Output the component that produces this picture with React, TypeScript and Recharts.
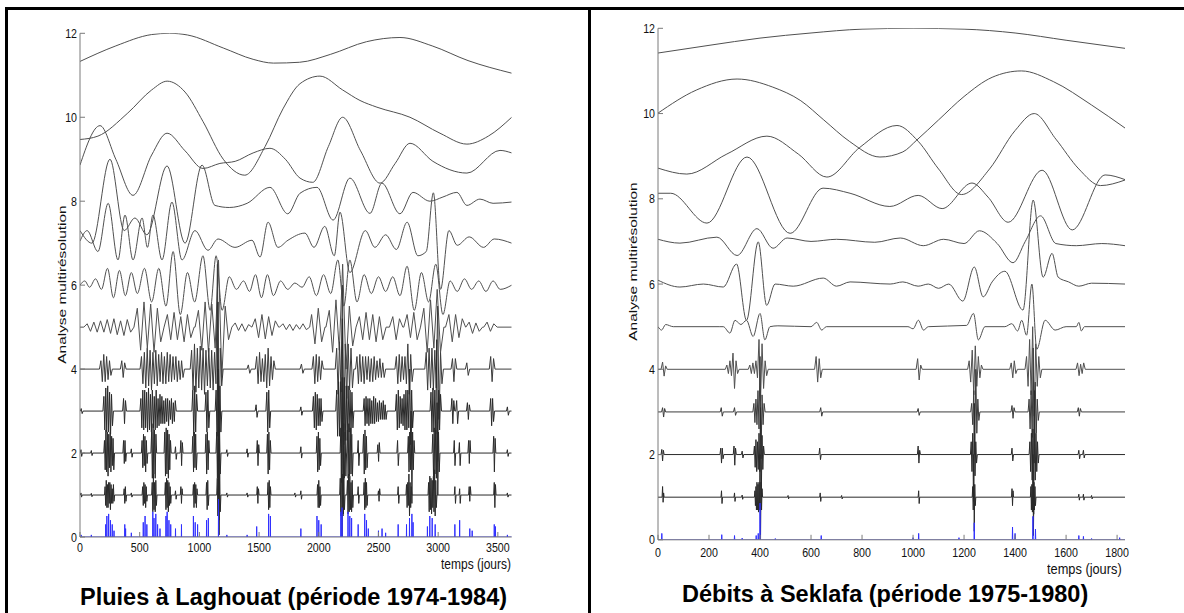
import React from 'react';
import { LineChart, Line, XAxis, YAxis } from 'recharts';

type Pt = { d: number; v: number };
type Burst = [number, number[]];

const FONT = '"Liberation Sans", Arial, sans-serif';
const AXIS = '#7a7a7a';
const INK = '#505050';
const DARK = '#2a2a2a';
const BLUE = '#3030ff';

const levelTicks = [0, 2, 4, 6, 8, 10, 12];

// ---------- Pluies à Laghouat (days 0..3616) ----------
const laghEnd = 3616;
const laghTicks = [0, 500, 1000, 1500, 2000, 2500, 3000, 3500];

const laghA = [[0, 11.33], [300, 11.7], [600, 11.97], [750, 12.0], [900, 11.96], [1200, 11.65], [1450, 11.38], [1620, 11.29], [1840, 11.31], [2100, 11.5], [2400, 11.8], [2680, 11.9], [2950, 11.7], [3250, 11.35], [3616, 11.05]];
const laghD10 = [[0, 9.47], [150, 9.55], [400, 10.1], [600, 10.65], [730, 10.86], [880, 10.6], [1030, 9.9], [1200, 9.0], [1380, 8.62], [1550, 9.3], [1700, 10.2], [1843, 10.8], [2010, 10.98], [2200, 10.65], [2345, 10.4], [2487, 10.24], [2764, 10.0], [3015, 9.62], [3241, 9.36], [3420, 9.55], [3616, 10.0]];
const laghD9 = [[0, 8.86], [168, 9.8], [300, 9.0], [444, 8.14], [600, 9.1], [729, 9.62], [880, 9.2], [1030, 8.78], [1172, 8.9], [1300, 8.95], [1450, 9.15], [1591, 9.26], [1720, 9.0], [1843, 8.55], [1950, 8.45], [2080, 9.3], [2200, 10.0], [2350, 9.2], [2513, 8.43], [2640, 8.9], [2764, 9.38], [2956, 8.95], [3241, 8.67], [3518, 9.21], [3616, 9.15]];
const laghD8 = [[0, 7.3], [100, 7.0], [251, 9.0], [370, 7.3], [460, 7.6], [560, 7.2], [729, 8.84], [880, 7.0], [1022, 8.86], [1130, 7.9], [1250, 7.85], [1400, 7.95], [1591, 8.33], [1740, 7.7], [1843, 8.19], [1985, 8.33], [2120, 7.55], [2261, 8.55], [2429, 7.71], [2529, 8.43], [2680, 7.7], [2789, 8.21], [2931, 8.0], [3040, 8.1], [3157, 8.21], [3241, 7.9], [3350, 8.05], [3460, 7.95], [3616, 7.98]];
const laghD7 = [[0, 7.05], [60, 7.3], [150, 6.8], [236, 7.95], [318, 6.6], [377, 7.67], [444, 6.6], [520, 7.6], [565, 6.9], [611, 7.67], [687, 6.6], [770, 7.98], [854, 6.6], [963, 7.3], [1072, 6.83], [1156, 7.1], [1298, 6.9], [1441, 7.07], [1508, 6.67], [1575, 7.5], [1658, 6.9], [1742, 7.07], [1884, 7.24], [1960, 6.9], [2050, 7.4], [2130, 6.7], [2178, 7.74], [2260, 6.3], [2390, 7.3], [2470, 6.9], [2560, 7.2], [2650, 6.85], [2740, 7.5], [2830, 6.7], [2900, 6.8], [2960, 8.2], [3020, 5.9], [3090, 7.3], [3160, 6.95], [3260, 7.15], [3380, 6.9], [3470, 7.1], [3616, 7.0]];
const laghD6 = [[0, 6.0], [40, 6.1], [80, 5.95], [130, 6.15], [180, 5.9], [230, 6.4], [280, 5.7], [330, 6.35], [380, 5.75], [430, 6.3], [480, 5.8], [540, 6.4], [600, 5.6], [660, 6.4], [720, 5.5], [780, 6.8], [840, 5.3], [900, 6.3], [960, 5.6], [1030, 6.7], [1090, 5.4], [1140, 6.7], [1190, 5.4], [1250, 6.2], [1310, 5.9], [1370, 6.1], [1420, 5.85], [1470, 6.25], [1520, 5.7], [1570, 6.25], [1620, 5.75], [1680, 6.1], [1740, 5.9], [1800, 6.05], [1860, 5.95], [1920, 6.2], [1980, 5.75], [2040, 6.25], [2100, 5.8], [2160, 6.6], [2210, 5.5], [2260, 6.6], [2320, 5.6], [2380, 6.25], [2440, 5.8], [2500, 6.2], [2560, 5.85], [2620, 6.2], [2680, 5.75], [2740, 6.45], [2800, 5.4], [2860, 6.3], [2920, 5.6], [2980, 6.5], [3040, 5.3], [3100, 6.1], [3160, 5.85], [3220, 6.15], [3280, 5.9], [3340, 6.1], [3400, 5.85], [3460, 6.1], [3520, 5.9], [3616, 6.0]];

const laghD5: Burst[] = [
  [60, [0.08, -0.1, 0.12, -0.12, 0.15, -0.12, 0.18, -0.15, 0.2, -0.18, 0.15, -0.2, 0.18, -0.12]],
  [480, [0.45, -0.55, 0.6, -0.5, 0.55, -0.6, 0.45, -0.35]],
  [732, [0.3, -0.3, 0.35, -0.3, 0.25, -0.35, 0.3, -0.25]],
  [992, [0.4, -0.55, 0.6, -0.6, 0.55, -0.5, 1.6, -1.2, 0.5, -0.3]],
  [1300, [0.1, -0.08, 0.08, -0.1, 0.06]],
  [1468, [0.2, -0.25, 0.3, -0.28, 0.25, -0.2, 0.15]],
  [1700, [0.08, -0.06, 0.07, -0.08, 0.06, -0.05, 0.08, -0.06]],
  [1940, [0.3, -0.4, 0.45, -0.35]],
  [2088, [0.4, -0.6, 0.65, -0.55, 1.5, -1.0, 0.5, -0.45]],
  [2340, [0.25, -0.3, 0.35, -0.3, 0.3, -0.35, 0.25, -0.3]],
  [2620, [0.25, -0.3, 0.2]],
  [2740, [0.3, -0.25, 0.35, -0.3]],
  [2880, [0.45, -0.6, 0.65, -0.5, 0.9, -0.6]],
  [3090, [0.3, -0.35, 0.3, -0.25, 0.2]],
  [3260, [0.12, -0.15, 0.1, -0.1]],
  [3410, [0.12, -0.1, 0.08]],
];
const laghD4: Burst[] = [
  [175, [0.2, -0.3, 0.35, -0.3, 0.3, -0.25, 0.2, -0.15]],
  [350, [0.2, -0.2, 0.15]],
  [515, [0.3, -0.35, 0.4, -0.45, 0.5, -0.4, 0.45, -0.5, 0.4, -0.35, 0.45, -0.4, 0.35, -0.3, 0.4, -0.35, 0.3, -0.35, 0.4, -0.3, 0.35, -0.3, 0.3, -0.25, 0.3, -0.3, 0.2, -0.25, 0.2, -0.2]],
  [935, [0.45, -0.5, 0.6, -0.55, 0.5, -0.45, 0.55, -0.5, 0.5, -0.6, 0.45, -0.4, 0.5, -0.45, 0.45, -0.5, 0.4, -0.35, 2.5, -2.2, 0.5, -0.4]],
  [1410, [0.1, -0.1]],
  [1480, [0.3, -0.35, 0.4, -0.3, 0.25, -0.3, 0.35, -0.45, 0.5, -0.4, 0.3, -0.25, 0.2]],
  [1855, [0.12, -0.1]],
  [1955, [0.3, -0.35, 0.35, -0.3, 0.3, -0.25, 0.2]],
  [2150, [0.5, -0.6, 0.65, -0.55, 2.0, -1.8, 0.6, -0.7, 0.6, -0.5, 0.5, -0.45]],
  [2320, [0.3, -0.35, 0.35, -0.3, 0.3, -0.35, 0.3, -0.25, 0.3, -0.3, 0.25, -0.3, 0.3, -0.25, 0.2, -0.2, 0.25, -0.2, 0.15, -0.2]],
  [2650, [0.3, -0.35, 0.35, -0.3, 0.3, -0.25, 0.3, -0.35, 0.6, -0.6, 0.35, -0.3]],
  [2900, [0.4, -0.5, 0.5, -0.45, 0.5, -0.5, 0.45, -0.45, 1.5, -1.2, 0.4, -0.35]],
  [3120, [0.25, -0.3, 0.25]],
  [3240, [0.15, -0.15]],
  [3440, [0.3, -0.3, 0.25]],
];
const laghD3: Burst[] = [
  [10, [0.06, -0.06]],
  [200, [0.35, -0.45, 0.55, -0.5, 0.6, -0.5, 0.45, -0.55, 0.4, -0.35]],
  [365, [0.3, -0.3, 0.25]],
  [510, [0.3, -0.4, 0.5, -0.45, 0.5, -0.4, 0.45, -0.5, 0.55, -0.45, 0.4, -0.5, 0.5, -0.4, 0.35, -0.45, 0.5, -0.4, 0.3, -0.35, 0.4, -0.3, 0.35, -0.3, 0.25, -0.3, 0.3, -0.25, 0.3, -0.35, 0.25, -0.2, 0.3, -0.3, 0.2, -0.25, 0.25]],
  [945, [0.5, -0.6, 0.6, -0.5, 0.4]],
  [1055, [0.45, -0.5, 0.5, -0.4]],
  [1140, [0.5, -0.6, 2.6, -2.0, 0.6, -0.5]],
  [1475, [0.15, -0.15]],
  [1565, [0.45, -0.5, 0.5, -0.4]],
  [1850, [0.1, -0.1]],
  [1955, [0.35, -0.4, 0.45, -0.45, 0.4, -0.35, 0.3, -0.35, 0.3, -0.25]],
  [2150, [0.5, -0.6, 0.7, -0.6, 0.7, -0.8, 2.2, -1.9, 0.8, -0.7, 0.6, -0.7, 0.6, -0.5, 0.5, -0.55, 0.45, -0.4]],
  [2380, [0.3, -0.35, 0.35, -0.3, 0.3, -0.35, 0.3, -0.3, 0.25, -0.3, 0.35, -0.3, 0.3, -0.25, 0.2, -0.25, 0.25, -0.2, 0.2, -0.2, 0.25, -0.2, 0.15, -0.2]],
  [2650, [0.4, -0.45, 0.5, -0.4, 0.35, -0.3, 0.3, -0.35, 0.4, -0.45, 0.5, -0.45, 0.5, -0.4, 1.0, -0.8, 0.5, -0.4]],
  [2940, [0.45, -0.5, 0.55, -0.5, 0.5, -0.55, 1.7, -1.2, 0.5, -0.45, 0.4]],
  [3115, [0.3, -0.3, 0.25]],
  [3155, [0.25, -0.3]],
  [3245, [0.2, -0.2, 0.15]],
  [3440, [0.3, -0.35, 0.3, -0.25]],
  [3580, [0.1, -0.1]],
];
const laghD2: Burst[] = [
  [8, [0.08, -0.08]],
  [95, [0.06, -0.06]],
  [205, [0.3, -0.4, 0.55, -0.45, 0.5, -0.55, 0.45, -0.35, 0.5, -0.45, 0.4, -0.3, 0.35, -0.4]],
  [365, [0.3, -0.25, 0.3, -0.2]],
  [430, [0.1, -0.1]],
  [520, [0.3, -0.35, 0.45, -0.3, 0.4, -0.45, 0.3, -0.25]],
  [600, [0.5, -0.6, 0.7, -0.5, 0.55, -0.6, 0.45]],
  [710, [0.5, -0.55, 0.6, -0.5, 0.55, -0.6, 0.45, -0.4, 0.3]],
  [800, [0.15, -0.15]],
  [845, [0.3, -0.3, 0.25]],
  [945, [0.4, -0.45, 0.5, -0.35, 0.45, -0.4]],
  [1055, [0.45, -0.5, 0.5, -0.4, 0.3]],
  [1145, [0.5, -0.6, 2.0, -1.6, 0.6, -0.5]],
  [1230, [0.08, -0.08]],
  [1400, [0.1, -0.1]],
  [1485, [0.3, -0.3, 0.2]],
  [1570, [0.45, -0.5, 0.5, -0.4, 0.3]],
  [1850, [0.15, -0.12]],
  [1985, [0.4, -0.45, 0.5, -0.4, 0.35, -0.3]],
  [2185, [0.6, -0.7, 1.8, -1.5, 0.7, -0.6, 0.5, -0.55]],
  [2240, [0.55, -0.6, 0.7, -0.55, 0.6, -0.5, 0.45, -0.55]],
  [2330, [0.3, -0.3]],
  [2375, [0.45, -0.5, 0.55, -0.4, 0.4, -0.35]],
  [2495, [0.2, -0.2, 0.25]],
  [2660, [0.3, -0.3]],
  [2750, [0.4, -0.45, 0.5, -0.4, 1.0, -1.2, 0.5, -0.4, 0.3]],
  [2955, [0.45, -0.55, 0.6, -0.5, 0.55, -0.6, 1.2, -1.0, 0.5, -0.45]],
  [3135, [0.3, -0.3]],
  [3178, [0.25, -0.3]],
  [3255, [0.3, -0.25, 0.3]],
  [3465, [0.4, -0.45, 0.35]],
  [3580, [0.08, -0.08]],
];
const laghD1: Burst[] = [
  [8, [0.05, -0.05]],
  [95, [0.04, -0.04]],
  [210, [0.2, -0.25, 0.35, -0.3, 0.25, -0.3, 0.3, -0.2, 0.3, -0.35, 0.25, -0.2, 0.15, -0.2, 0.25, -0.15]],
  [370, [0.15, -0.2, 0.2, -0.15]],
  [430, [0.05, -0.05]],
  [525, [0.2, -0.25, 0.3, -0.2, 0.25, -0.3, 0.2, -0.15]],
  [605, [0.3, -0.4, 0.5, -0.35, 0.3, -0.4, 0.35, -0.25]],
  [715, [0.3, -0.35, 0.4, -0.3, 0.35, -0.4, 0.3, -0.25, 0.2, -0.2]],
  [800, [0.1, -0.1]],
  [845, [0.2, -0.2, 0.15]],
  [950, [0.25, -0.3, 0.3, -0.2, 0.25, -0.3, 0.15]],
  [1060, [0.3, -0.35, 0.35, -0.25]],
  [1150, [0.4, -0.5, 1.3, -0.95, 0.5, -0.4]],
  [1230, [0.05, -0.05]],
  [1400, [0.05, -0.05]],
  [1485, [0.2, -0.2, 0.15]],
  [1575, [0.3, -0.35, 0.35, -0.3, 0.2]],
  [1800, [0.05, -0.05]],
  [1850, [0.1, -0.1]],
  [1990, [0.25, -0.3, 0.35, -0.3, 0.2, -0.25]],
  [2180, [0.4, -0.5, 1.2, -1.0, 0.5, -0.45, 0.4, -0.35]],
  [2240, [0.35, -0.45, 0.5, -0.4, 0.45, -0.35, 0.3, -0.4, 0.35, -0.3]],
  [2330, [0.2, -0.2]],
  [2380, [0.3, -0.35, 0.4, -0.3, 0.3, -0.25]],
  [2500, [0.1, -0.15, 0.15]],
  [2665, [0.2, -0.2]],
  [2735, [0.25, -0.3, 0.3, -0.25, 0.5, -0.5, 0.3, -0.3, 0.2]],
  [2920, [0.3, -0.4, 0.45, -0.35, 0.4, -0.45, 0.35, -0.3, 0.45, -0.4, 0.6, -0.5, 0.35, -0.3]],
  [3140, [0.2, -0.2]],
  [3180, [0.15, -0.2]],
  [3260, [0.2, -0.15, 0.2]],
  [3470, [0.3, -0.3, 0.25]],
  [3580, [0.05, -0.05]],
];
const laghRain = [[10, 0.05], [95, 0.05], [215, 0.3], [225, 0.5], [240, 0.55], [255, 0.4], [270, 0.3], [285, 0.15], [375, 0.3], [382, 0.2], [430, 0.1], [530, 0.35], [545, 0.5], [560, 0.3], [610, 0.6], [620, 0.45], [635, 0.55], [650, 0.3], [670, 0.2], [720, 0.5], [730, 0.6], [745, 0.4], [760, 0.3], [800, 0.2], [850, 0.3], [950, 0.5], [965, 0.35], [985, 0.3], [1060, 0.4], [1075, 0.45], [1160, 0.9], [1230, 0.05], [1400, 0.05], [1480, 0.25], [1580, 0.55], [1595, 0.5], [1850, 0.2], [1985, 0.5], [2000, 0.4], [2020, 0.3], [2185, 0.6], [2195, 0.7], [2245, 0.6], [2260, 0.5], [2275, 0.45], [2330, 0.3], [2385, 0.55], [2400, 0.4], [2415, 0.2], [2500, 0.15], [2530, 0.2], [2560, 0.1], [2665, 0.3], [2735, 0.3], [2760, 0.45], [2780, 0.55], [2790, 0.35], [2910, 0.25], [2930, 0.5], [2950, 0.45], [2975, 0.3], [3140, 0.3], [3180, 0.4], [3265, 0.2], [3285, 0.15], [3470, 0.3], [3480, 0.25], [3580, 0.05]];

// ---------- Débits à Seklafa (days 0..1831) ----------
const sekEnd = 1831;
const sekTicks = [0, 200, 400, 600, 800, 1000, 1200, 1400, 1600, 1800];

const sekA = [[0, 11.42], [200, 11.6], [400, 11.77], [600, 11.89], [800, 11.98], [1000, 12.0], [1200, 11.98], [1400, 11.89], [1600, 11.72], [1831, 11.53]];
const sekD10 = [[0, 10.01], [150, 10.55], [310, 10.81], [450, 10.62], [560, 10.3], [650, 9.85], [750, 9.35], [870, 8.98], [960, 9.1], [1015, 9.38], [1100, 9.85], [1200, 10.4], [1310, 10.85], [1425, 11.0], [1550, 10.75], [1700, 10.2], [1831, 9.66]];
const sekD9 = [[0, 8.72], [113, 8.58], [270, 9.05], [427, 9.47], [550, 9.05], [662, 8.51], [790, 9.2], [937, 9.72], [1020, 9.35], [1100, 8.7], [1190, 8.1], [1300, 8.7], [1400, 9.6], [1475, 10.0], [1560, 9.4], [1650, 8.7], [1735, 8.31], [1831, 8.44]];
const sekD8 = [[0, 8.13], [50, 8.13], [192, 7.43], [349, 8.98], [518, 7.19], [647, 8.25], [753, 8.13], [909, 7.82], [1020, 8.08], [1114, 7.77], [1231, 8.37], [1294, 8.04], [1373, 7.45], [1506, 8.67], [1624, 7.27], [1753, 8.56], [1831, 8.45]];
const sekD7 = [[0, 7.05], [86, 6.96], [231, 7.1], [310, 6.67], [388, 7.3], [451, 6.84], [506, 7.08], [600, 7.0], [700, 7.05], [850, 6.98], [950, 7.08], [1040, 6.9], [1120, 7.05], [1200, 6.95], [1260, 7.25], [1330, 6.95], [1392, 6.5], [1440, 7.0], [1500, 7.6], [1560, 6.95], [1640, 6.9], [1740, 6.95], [1831, 6.9]];
const sekD6 = [[0, 6.09], [86, 5.93], [178, 6.0], [256, 5.93], [308, 6.47], [347, 5.15], [393, 6.99], [426, 5.5], [459, 6.0], [530, 5.95], [648, 6.14], [700, 5.95], [753, 6.05], [910, 6.0], [960, 6.05], [1020, 5.95], [1060, 6.0], [1100, 5.9], [1140, 6.0], [1195, 5.6], [1240, 6.4], [1275, 5.7], [1310, 6.05], [1360, 6.3], [1431, 5.39], [1471, 7.97], [1510, 6.16], [1545, 6.72], [1569, 6.16], [1610, 6.05], [1650, 5.95], [1700, 6.02], [1831, 6.0]];
const sekD5 = [[0, 5.0], [14, 4.92], [30, 5.05], [60, 5.0], [240, 5.0], [256, 5.0], [282, 4.85], [302, 5.15], [325, 5.05], [347, 5.15], [373, 4.77], [400, 5.31], [419, 4.69], [439, 5.0], [470, 5.02], [600, 5.0], [622, 5.1], [642, 4.92], [660, 5.0], [980, 5.0], [1000, 4.95], [1021, 5.15], [1041, 4.92], [1060, 5.0], [1210, 5.03], [1237, 5.31], [1256, 4.69], [1282, 5.0], [1360, 5.0], [1387, 5.07], [1410, 4.9], [1426, 5.15], [1445, 4.8], [1466, 6.0], [1485, 4.47], [1518, 5.15], [1557, 4.92], [1600, 5.0], [1640, 5.0], [1650, 5.1], [1660, 4.9], [1672, 5.0], [1831, 5.0]];
const sekD4: Burst[] = [
  [18, [0.17, -0.16, 0.08]],
  [270, [0.1, -0.1, 0.2, -0.15, 0.38, -0.45, 0.2, -0.1]],
  [360, [0.1, -0.1, 0.15, -0.1, 0.2, -0.2, 0.7, -0.75, 0.6, -0.45, 0.2, -0.15]],
  [620, [0.3, -0.3, 0.25, -0.2]],
  [1018, [0.25, -0.25, 0.1]],
  [1220, [0.2, -0.3, 0.45, -0.6, 0.55, -0.4, 0.3, -0.2, 0.1]],
  [1385, [0.15, -0.2, 0.2, -0.1]],
  [1445, [0.3, -0.4, 0.7, -0.6, 1.0, -1.1, 0.6, -0.4, 0.3, -0.2]],
  [1645, [0.15, -0.15, 0.12, -0.1, 0.15]],
];
const sekD3: Burst[] = [
  [18, [0.1, -0.12, 0.08]],
  [248, [0.1, -0.1]],
  [300, [0.1, -0.08]],
  [376, [0.2, -0.25, 0.3, -0.3, 0.5, -0.4, 1.3, -1.1, 0.4, -0.3, 0.2]],
  [638, [0.1, -0.1]],
  [1020, [0.08, -0.08]],
  [1230, [0.2, -0.3, 0.5, -1.0, 1.0, -0.5, 0.3, -0.2]],
  [1388, [0.15, -0.15, 0.1]],
  [1455, [0.3, -0.4, 0.5, -0.6, 1.5, -1.2, 0.7, -0.5, 0.3, -0.2]],
  [1648, [0.1, -0.1, 0.08]],
];
const sekD2: Burst[] = [
  [15, [0.12, -0.15, 0.1]],
  [246, [0.15, -0.2, 0.15, -0.1]],
  [298, [0.2, -0.25, 0.15]],
  [330, [0.08, -0.08]],
  [378, [0.2, -0.3, 0.35, -0.4, 0.3, -0.35, 0.5, -0.4, 1.1, -1.0, 0.45, -0.35, 0.2]],
  [634, [0.15, -0.12]],
  [1020, [0.2, -0.2, 0.1]],
  [1228, [0.3, -0.4, 0.5, -1.1, 1.2, -0.5, 0.3, -0.2]],
  [1388, [0.15, -0.15]],
  [1458, [0.3, -0.4, 0.5, -0.6, 0.6, -1.4, 1.5, -0.6, 0.5, -0.4, 0.3, -0.2]],
  [1650, [0.1, -0.1]],
  [1668, [0.1, -0.08]],
];
const sekD1: Burst[] = [
  [18, [0.25, -0.12, 0.1]],
  [249, [0.15, -0.15]],
  [300, [0.1, -0.1]],
  [330, [0.05, -0.05]],
  [380, [0.15, -0.2, 0.25, -0.3, 0.35, -0.3, 0.3, -0.35, 0.35, -0.3, 1.0, -1.0, 0.35, -0.3, 0.2]],
  [510, [0.04, -0.04]],
  [636, [0.1, -0.1]],
  [720, [0.04, -0.04]],
  [1022, [0.15, -0.15]],
  [1234, [0.25, -0.3, 1.0, -0.8, 0.3, -0.2]],
  [1388, [0.2, -0.2, 0.15]],
  [1462, [0.25, -0.3, 0.3, -0.35, 1.0, -0.9, 0.35, -0.3, 0.25, -0.2]],
  [1650, [0.07, -0.07]],
  [1668, [0.07, -0.07]],
  [1700, [0.04, -0.04]],
];
const sekFlow = [[15, 0.15], [250, 0.12], [300, 0.1], [330, 0.04], [385, 0.1], [393, 0.15], [400, 0.86], [460, 0.03], [640, 0.1], [1000, 0.05], [1022, 0.15], [1180, 0.05], [1240, 0.4], [1390, 0.3], [1400, 0.15], [1470, 0.55], [1480, 0.25], [1650, 0.1], [1668, 0.08], [1700, 0.03], [1810, 0.05]];

// ---------- builders ----------
const toPts = (rows: number[][]): Pt[] => rows.map(([d, v]) => ({ d, v }));

function burstPts(base: number, step: number, list: Burst[], end: number): Pt[] {
  const pts: Pt[] = [{ d: 0, v: base }];
  for (const [s, vals] of list) {
    const last = pts[pts.length - 1].d;
    if (s - step > last) pts.push({ d: s - step, v: base });
    vals.forEach((o, i) => pts.push({ d: s + i * step, v: base + o }));
    pts.push({ d: s + vals.length * step, v: base });
  }
  pts.push({ d: end, v: base });
  return pts;
}

function spikePts(list: number[][], end: number, w: number): Pt[] {
  const pts: Pt[] = [{ d: 0, v: 0 }];
  for (const [d, h] of list) {
    pts.push({ d: d - w, v: 0 }, { d, v: h }, { d: d + w, v: 0 });
  }
  pts.push({ d: end, v: 0 });
  return pts;
}

type Series = { id: string; data: Pt[]; curve: 'monotone' | 'linear'; color: string };

const laghSeries: Series[] = [
  { id: 'a', data: toPts(laghA), curve: 'monotone', color: INK },
  { id: 'd10', data: toPts(laghD10), curve: 'monotone', color: INK },
  { id: 'd9', data: toPts(laghD9), curve: 'monotone', color: INK },
  { id: 'd8', data: toPts(laghD8), curve: 'monotone', color: INK },
  { id: 'd7', data: toPts(laghD7), curve: 'monotone', color: INK },
  { id: 'd6', data: toPts(laghD6), curve: 'monotone', color: INK },
  { id: 'd5', data: burstPts(5, 28, laghD5, laghEnd), curve: 'linear', color: INK },
  { id: 'd4', data: burstPts(4, 12, laghD4, laghEnd), curve: 'linear', color: '#3c3c3c' },
  { id: 'd3', data: burstPts(3, 8, laghD3, laghEnd), curve: 'linear', color: DARK },
  { id: 'd2', data: burstPts(2, 6, laghD2, laghEnd), curve: 'linear', color: DARK },
  { id: 'd1', data: burstPts(1, 5, laghD1, laghEnd), curve: 'linear', color: DARK },
  { id: 'raw', data: spikePts(laghRain, laghEnd, 1), curve: 'linear', color: BLUE },
];

const sekSeries: Series[] = [
  { id: 'a', data: toPts(sekA), curve: 'monotone', color: INK },
  { id: 'd10', data: toPts(sekD10), curve: 'monotone', color: INK },
  { id: 'd9', data: toPts(sekD9), curve: 'monotone', color: INK },
  { id: 'd8', data: toPts(sekD8), curve: 'monotone', color: INK },
  { id: 'd7', data: toPts(sekD7), curve: 'monotone', color: INK },
  { id: 'd6', data: toPts(sekD6), curve: 'monotone', color: INK },
  { id: 'd5', data: toPts(sekD5), curve: 'monotone', color: INK },
  { id: 'd4', data: burstPts(4, 6, sekD4, sekEnd), curve: 'linear', color: INK },
  { id: 'd3', data: burstPts(3, 4, sekD3, sekEnd), curve: 'linear', color: '#3c3c3c' },
  { id: 'd2', data: burstPts(2, 3, sekD2, sekEnd), curve: 'linear', color: DARK },
  { id: 'd1', data: burstPts(1, 2, sekD1, sekEnd), curve: 'linear', color: DARK },
  { id: 'raw', data: spikePts(sekFlow, sekEnd, 1), curve: 'linear', color: BLUE },
];

// tick labels drawn a little narrow and tall, like the scanned figure
const XTick = (props: any) => {
  const { x, y, payload } = props;
  return (
    <g transform={`translate(${x},${y})`}>
      <text transform="scale(0.82,1)" textAnchor="middle" dy="0.72em" fontSize={13} fontFamily={FONT} fill="#111">
        {payload.value}
      </text>
    </g>
  );
};

const YTick = (props: any) => {
  const { x, y, payload } = props;
  return (
    <g transform={`translate(${x},${y})`}>
      <text transform="scale(0.82,1)" textAnchor="end" dy="0.36em" fontSize={13} fontFamily={FONT} fill="#111">
        {payload.value}
      </text>
    </g>
  );
};

type PanelProps = {
  left: number;
  width: number;
  height: number;
  top: number;
  right: number;
  yAxisWidth: number;
  xAxisHeight: number;
  end: number;
  xTicks: number[];
  gap: number;
  series: Series[];
};

function Panel(p: PanelProps) {
  return (
    <div style={{ position: 'absolute', left: p.left, top: 0 }}>
      <LineChart width={p.width} height={p.height} margin={{ top: p.top, right: p.right, bottom: 0, left: 0 }}>
        <XAxis dataKey="d" type="number" domain={[0, p.end]} ticks={p.xTicks} interval={0} allowDataOverflow
          tickSize={-5} tickMargin={p.gap} height={p.xAxisHeight} stroke={AXIS} tick={<XTick />} />
        <XAxis xAxisId="top" orientation="top" dataKey="d" type="number" domain={[0, p.end]} ticks={p.xTicks}
          interval={0} allowDataOverflow tick={false} tickSize={-5} height={0} stroke={AXIS} />
        <YAxis type="number" domain={[0, 12]} ticks={levelTicks} interval={0} allowDataOverflow
          tickSize={-5} tickMargin={8} width={p.yAxisWidth} stroke={AXIS} tick={<YTick />} />
        <YAxis yAxisId="right" orientation="right" type="number" domain={[0, 12]} ticks={levelTicks} interval={0}
          tick={false} tickSize={-5} width={0} stroke={AXIS} />
        {p.series.map((s) => (
          <Line key={s.id} data={s.data} dataKey="v" type={s.curve} stroke={s.color} strokeWidth={1}
            dot={false} activeDot={false} isAnimationActive={false} />
        ))}
      </LineChart>
    </div>
  );
}

const txt = (extra: React.CSSProperties): React.CSSProperties => ({
  position: 'absolute', fontFamily: FONT, color: '#111', whiteSpace: 'nowrap', lineHeight: 1, ...extra,
});

export default function App() {
  return (
    <div style={{ position: 'absolute', left: 0, top: 0, width: 1184, height: 613, background: '#fff', overflow: 'hidden' }}>
      <div style={{ position: 'absolute', left: 5, top: 7, width: 1179, height: 3, background: '#000' }} />
      <div style={{ position: 'absolute', left: 5, top: 7, width: 2.5, height: 606, background: '#000' }} />
      <div style={{ position: 'absolute', left: 587.5, top: 7, width: 3, height: 606, background: '#000' }} />

      <Panel left={0} width={540} height={580} top={33.3} right={28.3} yAxisWidth={80} xAxisHeight={43}
        end={laghEnd} xTicks={laghTicks} gap={11} series={laghSeries} />
      <Panel left={600} width={560} height={580} top={28.3} right={35} yAxisWidth={58} xAxisHeight={40.2}
        end={sekEnd} xTicks={sekTicks} gap={13} series={sekSeries} />

      <div style={txt({ left: 62 - 100, top: 285 - 6, width: 200, textAlign: 'center', fontSize: 11, transform: 'rotate(-90deg) scaleX(1.4)' })}>
        Analyse multirésolution
      </div>
      <div style={txt({ left: 633 - 100, top: 262 - 6, width: 200, textAlign: 'center', fontSize: 11, transform: 'rotate(-90deg) scaleX(1.4)' })}>
        Analyse multirésolution
      </div>
      <div style={txt({ left: 441, top: 557, fontSize: 12, transform: 'scaleY(1.2)', transformOrigin: 'left top' })}>temps (jours)</div>
      <div style={txt({ left: 1047, top: 562, fontSize: 12.8, transform: 'scaleY(1.2)', transformOrigin: 'left top' })}>temps (jours)</div>

      <div style={txt({ left: 80, top: 586, fontSize: 23.5, fontWeight: 700, color: '#000' })}>
        Pluies à Laghouat (période 1974-1984)
      </div>
      <div style={txt({ left: 682, top: 583, fontSize: 23.5, fontWeight: 700, color: '#000' })}>
        Débits à Seklafa (période 1975-1980)
      </div>
    </div>
  );
}
